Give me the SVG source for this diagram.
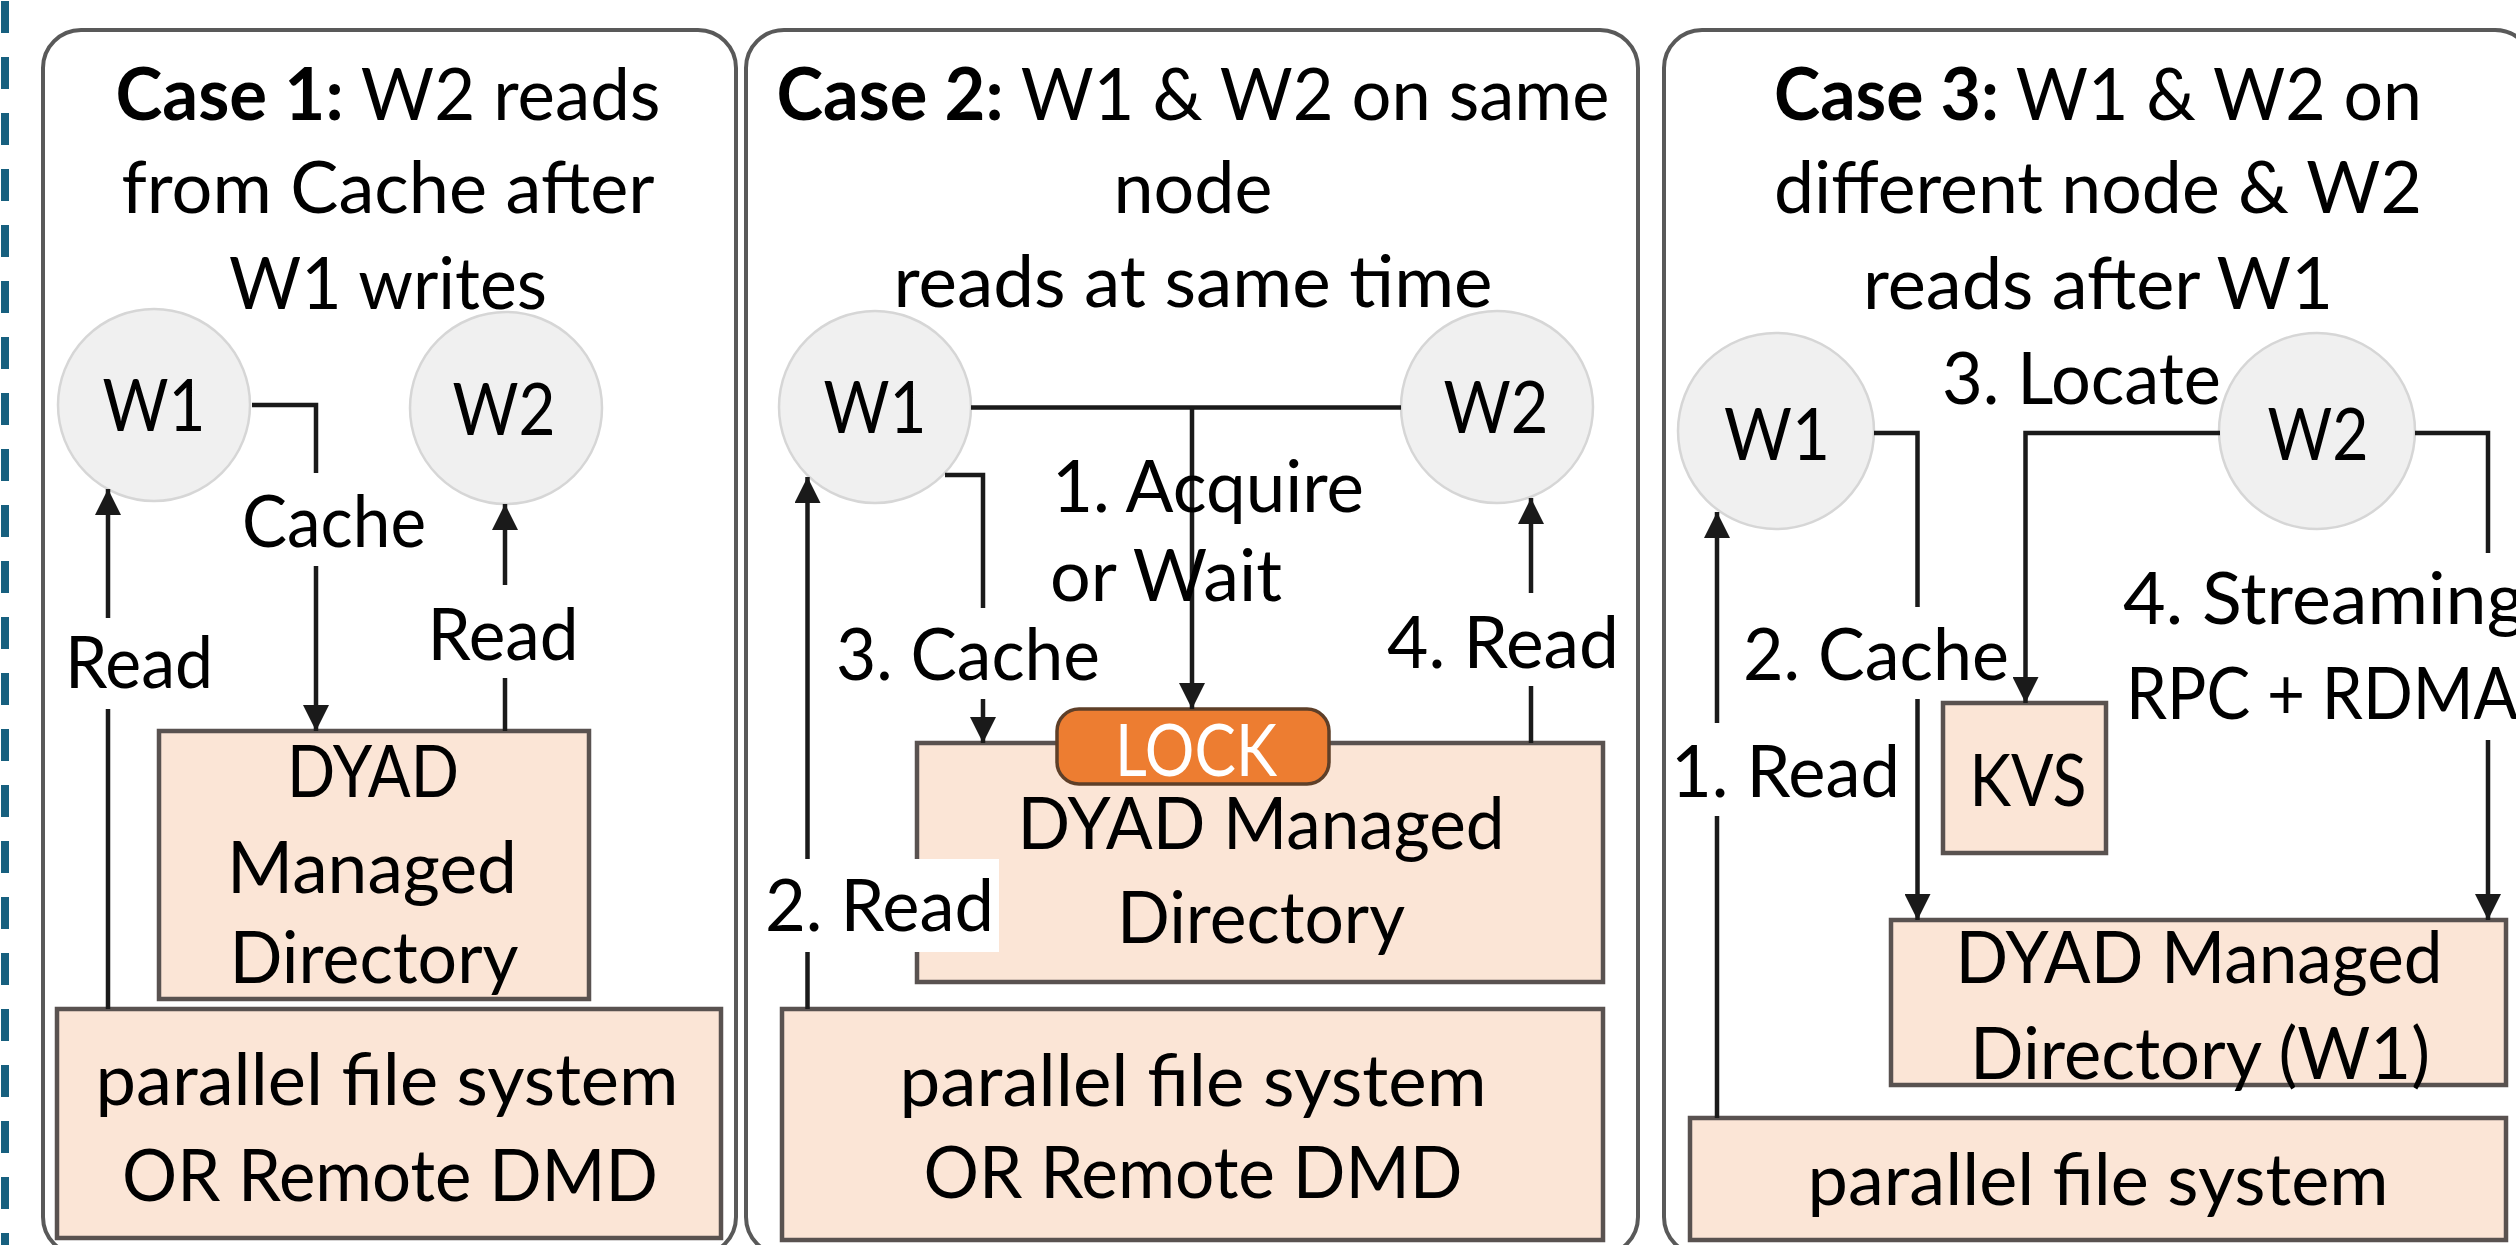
<svg xmlns="http://www.w3.org/2000/svg" width="2516" height="1245" viewBox="0 0 2516 1245">
  <style>
    text { font-family: Lato, "Noto Sans", "DejaVu Sans", sans-serif; font-size: 72px; fill: #000; }
    .c { text-anchor: middle; }
    .b { font-weight: bold; }
    .panel { fill: #fff; stroke: #595959; stroke-width: 4; }
    .worker { fill: #f0f0f0; stroke: #d6d6d6; stroke-width: 2.5; }
    .store { fill: #fbe5d6; stroke: #595250; stroke-width: 4.5; }
    .lock { fill: #ed7d31; stroke: #5e3f28; stroke-width: 3.5; }
    .lock-t { fill: #fff; }
    .wire { fill: none; stroke: #1a1a1a; stroke-width: 4.5; }
    .bg { fill: #fff; }
  </style>
  <defs>
    <marker id="ah" viewBox="0 0 10 10" refX="10" refY="5" markerWidth="28" markerHeight="26" markerUnits="userSpaceOnUse" orient="auto">
      <path d="M0,0 L10,5 L0,10 z" fill="#1a1a1a"/>
    </marker>
  </defs>

  <!-- dashed divider on the left -->
  <line x1="5" y1="1" x2="5" y2="1245" stroke="#17607f" stroke-width="8" stroke-dasharray="32 24"/>

  <!-- panel frames -->
  <g id="panel1"><rect class="panel" x="43" y="30" width="693" height="1225" rx="38"/></g>
  <g id="panel2"><rect class="panel" x="746" y="30" width="892" height="1225" rx="38"/></g>
  <g id="panel3"><rect class="panel" x="1664" y="30" width="869" height="1225" rx="38"/></g>

  <!-- titles -->
  <g id="title1">
    <text class="c" x="388" y="120" textLength="545" lengthAdjust="spacingAndGlyphs"><tspan class="b">Case 1:</tspan> W2 reads</text>
    <text class="c" x="388" y="213" textLength="533" lengthAdjust="spacingAndGlyphs">from Cache after</text>
    <text class="c" x="388" y="309" textLength="318" lengthAdjust="spacingAndGlyphs">W1 writes</text>
  </g>
  <g id="title2">
    <text class="c" x="1193" y="120" textLength="833" lengthAdjust="spacingAndGlyphs"><tspan class="b">Case 2:</tspan> W1 &amp; W2 on same</text>
    <text class="c" x="1193" y="213" textLength="159" lengthAdjust="spacingAndGlyphs">node</text>
    <text class="c" x="1193" y="307" textLength="599" lengthAdjust="spacingAndGlyphs">reads at same time</text>
  </g>
  <g id="title3">
    <text class="c" x="2098" y="120" textLength="648" lengthAdjust="spacingAndGlyphs"><tspan class="b">Case 3:</tspan> W1 &amp; W2 on</text>
    <text class="c" x="2098" y="213" textLength="648" lengthAdjust="spacingAndGlyphs">different node &amp; W2</text>
    <text class="c" x="2098" y="309" textLength="470" lengthAdjust="spacingAndGlyphs">reads after W1</text>
  </g>

  <!-- case 1 nodes -->
  <g id="c1-w1"><circle class="worker" cx="154" cy="405" r="96"/><text class="c" x="154" y="431" textLength="103" lengthAdjust="spacingAndGlyphs">W1</text></g>
  <g id="c1-w2"><circle class="worker" cx="506" cy="408" r="96"/><text class="c" x="504" y="435" textLength="103" lengthAdjust="spacingAndGlyphs">W2</text></g>
  <g id="c1-dmd">
    <rect class="store" x="159" y="731" width="430" height="268"/>
    <text class="c" x="373" y="797" textLength="172" lengthAdjust="spacingAndGlyphs">DYAD</text>
    <text class="c" x="372" y="893" textLength="290" lengthAdjust="spacingAndGlyphs">Managed</text>
    <text class="c" x="374" y="983" textLength="289" lengthAdjust="spacingAndGlyphs">Directory</text>
  </g>
  <g id="c1-pfs">
    <rect class="store" x="57" y="1009" width="664" height="229"/>
    <text class="c" x="387" y="1105" textLength="583" lengthAdjust="spacingAndGlyphs">parallel file system</text>
    <text class="c" x="390" y="1201" textLength="536" lengthAdjust="spacingAndGlyphs">OR Remote DMD</text>
  </g>

  <!-- case 2 nodes -->
  <g id="c2-w1"><circle class="worker" cx="875" cy="407" r="96"/><text class="c" x="875" y="433" textLength="103" lengthAdjust="spacingAndGlyphs">W1</text></g>
  <g id="c2-w2"><circle class="worker" cx="1497" cy="407" r="96"/><text class="c" x="1496" y="433" textLength="105" lengthAdjust="spacingAndGlyphs">W2</text></g>
  <g id="c2-dmd">
    <rect class="store" x="917" y="743" width="686" height="239"/>
    <text class="c" x="1261" y="849" textLength="487" lengthAdjust="spacingAndGlyphs">DYAD Managed</text>
    <text class="c" x="1261" y="943" textLength="288" lengthAdjust="spacingAndGlyphs">Directory</text>
  </g>
  <g id="c2-lock">
    <rect class="lock" x="1057" y="709" width="272" height="75" rx="22"/>
    <text class="c lock-t" x="1196" y="776" textLength="162" lengthAdjust="spacingAndGlyphs">LOCK</text>
  </g>
  <g id="c2-pfs">
    <rect class="store" x="782" y="1009" width="821" height="231"/>
    <text class="c" x="1193" y="1106" textLength="587" lengthAdjust="spacingAndGlyphs">parallel file system</text>
    <text class="c" x="1193" y="1198" textLength="539" lengthAdjust="spacingAndGlyphs">OR Remote DMD</text>
  </g>

  <!-- case 3 nodes -->
  <g id="c3-w1"><circle class="worker" cx="1776" cy="431" r="98"/><text class="c" x="1777" y="460" textLength="106" lengthAdjust="spacingAndGlyphs">W1</text></g>
  <g id="c3-w2"><circle class="worker" cx="2317" cy="431" r="98"/><text class="c" x="2318" y="460" textLength="101" lengthAdjust="spacingAndGlyphs">W2</text></g>
  <g id="c3-kvs">
    <rect class="store" x="1943" y="703" width="163" height="150"/>
    <text class="c" x="2028" y="806" textLength="117" lengthAdjust="spacingAndGlyphs">KVS</text>
  </g>
  <g id="c3-dmd">
    <rect class="store" x="1891" y="920" width="615" height="165"/>
    <text class="c" x="2199" y="983" textLength="487" lengthAdjust="spacingAndGlyphs">DYAD Managed</text>
    <text class="c" x="2200" y="1079" textLength="460" lengthAdjust="spacingAndGlyphs">Directory (W1)</text>
  </g>
  <g id="c3-pfs">
    <rect class="store" x="1690" y="1118" width="816" height="122"/>
    <text class="c" x="2098" y="1205" textLength="581" lengthAdjust="spacingAndGlyphs">parallel file system</text>
  </g>

  <!-- connectors -->
  <g id="connectors">
    <!-- case 1 -->
    <polyline class="wire" points="252,405 316,405 316,473"/>
    <line class="wire" x1="316" y1="566" x2="316" y2="731" marker-end="url(#ah)"/>
    <line class="wire" x1="108" y1="618" x2="108" y2="489" marker-end="url(#ah)"/>
    <line class="wire" x1="108" y1="1009" x2="108" y2="709"/>
    <line class="wire" x1="505" y1="585" x2="505" y2="504" marker-end="url(#ah)"/>
    <line class="wire" x1="505" y1="731" x2="505" y2="678"/>

    <!-- case 2 -->
    <line class="wire" x1="971" y1="407.5" x2="1401" y2="407.5"/>
    <line class="wire" x1="1192" y1="407.5" x2="1192" y2="709" marker-end="url(#ah)"/>
    <polyline class="wire" points="945,475 983,475 983,608"/>
    <line class="wire" x1="983" y1="699" x2="983" y2="743" marker-end="url(#ah)"/>
    <line class="wire" x1="807.5" y1="859" x2="807.5" y2="477" marker-end="url(#ah)"/>
    <line class="wire" x1="807.5" y1="1009" x2="807.5" y2="952"/>
    <line class="wire" x1="1531" y1="593" x2="1531" y2="498" marker-end="url(#ah)"/>
    <line class="wire" x1="1531" y1="743" x2="1531" y2="686"/>

    <!-- case 3 -->
    <polyline class="wire" points="2220,433 2025.5,433 2025.5,703" marker-end="url(#ah)"/>
    <polyline class="wire" points="1874,433 1917.5,433 1917.5,607"/>
    <line class="wire" x1="1917.5" y1="699" x2="1917.5" y2="920" marker-end="url(#ah)"/>
    <line class="wire" x1="1717" y1="723" x2="1717" y2="512" marker-end="url(#ah)"/>
    <line class="wire" x1="1717" y1="1118" x2="1717" y2="816"/>
    <polyline class="wire" points="2415,433 2488,433 2488,553"/>
    <line class="wire" x1="2488" y1="740" x2="2488" y2="920" marker-end="url(#ah)"/>
  </g>

  <!-- connector labels -->
  <g id="labels">
    <text class="c" x="334" y="547" textLength="184" lengthAdjust="spacingAndGlyphs">Cache</text>
    <text class="c" x="139" y="688" textLength="148" lengthAdjust="spacingAndGlyphs">Read</text>
    <text class="c" x="503" y="660" textLength="151" lengthAdjust="spacingAndGlyphs">Read</text>

    <text x="1052" y="512" textLength="312" lengthAdjust="spacingAndGlyphs">1. Acquire</text>
    <text x="1050" y="601" textLength="232" lengthAdjust="spacingAndGlyphs">or Wait</text>
    <text x="836" y="680" textLength="264" lengthAdjust="spacingAndGlyphs">3. Cache</text>
    <rect class="bg" x="760" y="859" width="239" height="93"/>
    <text x="765" y="931" textLength="229" lengthAdjust="spacingAndGlyphs">2. Read</text>
    <text x="1387" y="668" textLength="232" lengthAdjust="spacingAndGlyphs">4. Read</text>

    <text x="1942" y="404" textLength="279" lengthAdjust="spacingAndGlyphs">3. Locate</text>
    <text x="1743" y="680" textLength="266" lengthAdjust="spacingAndGlyphs">2. Cache</text>
    <text x="1671" y="797" textLength="229" lengthAdjust="spacingAndGlyphs">1. Read</text>
    <text x="2123" y="624" textLength="402" lengthAdjust="spacingAndGlyphs">4. Streaming</text>
    <text x="2126" y="719" textLength="392" lengthAdjust="spacingAndGlyphs">RPC + RDMA</text>
  </g>
</svg>
